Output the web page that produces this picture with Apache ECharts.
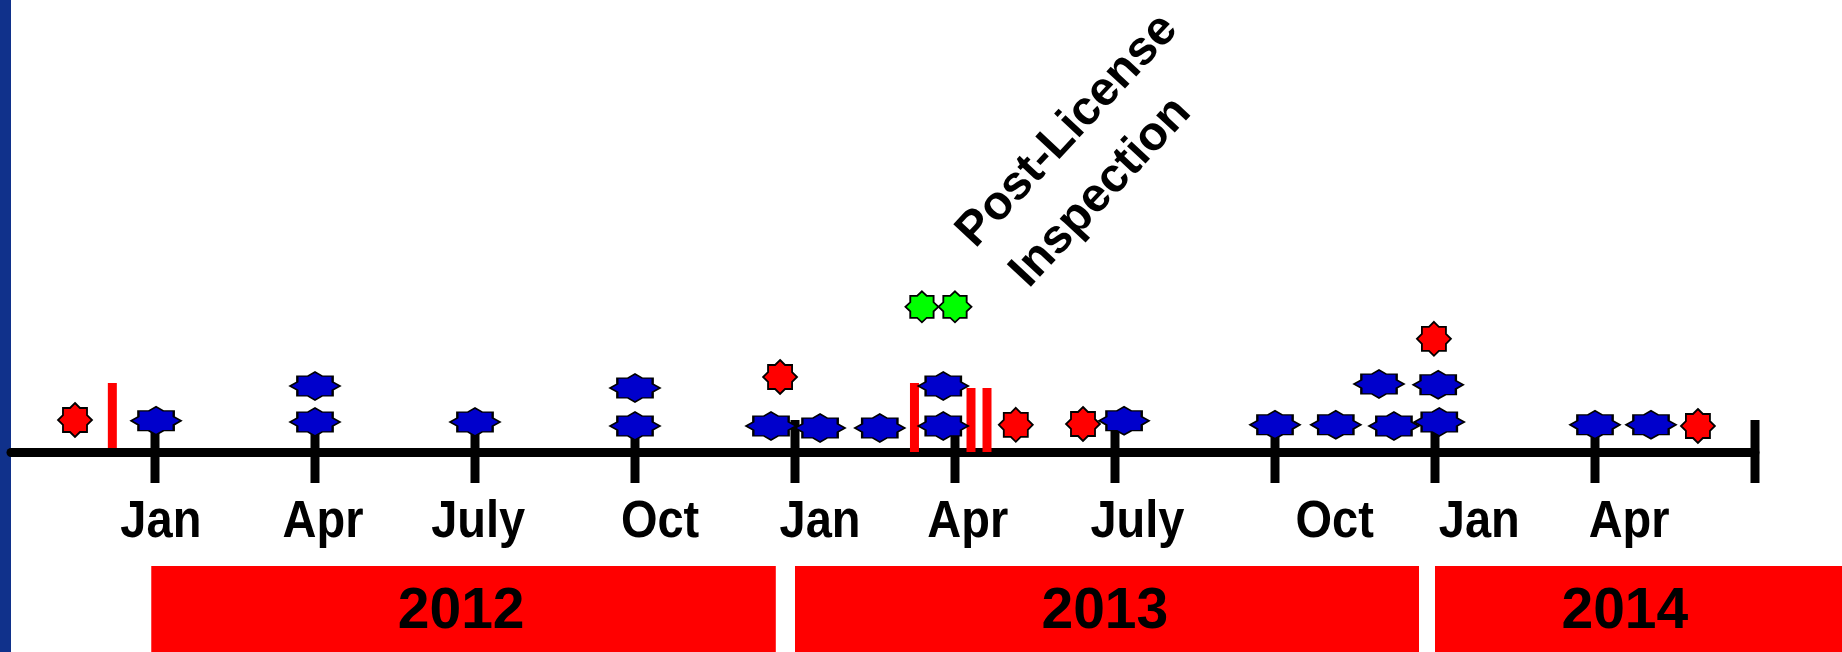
<!DOCTYPE html>
<html>
<head>
<meta charset="utf-8">
<script src="https://cdn.jsdelivr.net/npm/echarts@6/dist/echarts.min.js"></script>
<style>
  html, body { margin: 0; padding: 0; background: #fff; }
  #chart { width: 1842px; height: 652px; }
</style>
</head>
<body>
<div id="chart"></div>
<script>
// months counted from Jan 2012 (0), heights above the timeline in row units
const tickMonths = [0, 3, 6, 9, 12, 15, 18, 21, 24, 27, 30]
const monthLabels = ['Jan', 'Apr', 'July', 'Oct', 'Jan', 'Apr', 'July', 'Oct', 'Jan', 'Apr']
const monthLabelAt = [0.11, 3.15, 6.06, 9.47, 12.47, 15.24, 18.42, 22.12, 24.83, 27.64]

const blueEvents = [
  [0.02, 0.78], [3.0, 0.75], [3.0, 1.65], [6.0, 0.75], [9.0, 0.65], [9.0, 1.6],
  [11.55, 0.65], [12.47, 0.6], [13.59, 0.6], [14.78, 0.65], [14.78, 1.65],
  [18.17, 0.78], [21.0, 0.68], [22.14, 0.68], [23.23, 0.65], [24.08, 0.75],
  [22.95, 1.7], [24.06, 1.68], [27.0, 0.68], [28.05, 0.68]
]
const redEvents = [
  [-1.5, 0.8], [11.72, 1.875], [16.14, 0.68], [17.4, 0.7], [23.98, 2.83], [28.93, 0.65]
]
const greenEvents = [[14.38, 3.63], [15.0, 3.63]]

// red vertical markers: [month, bottom, top]
const redBars = [[-0.8, 0.1, 1.725], [14.24, 0, 1.725], [15.3, 0, 1.6], [15.6, 0, 1.6]]

const years = ['2012', '2013', '2014']
const yearStart = [-0.07, 12.0, 24.0]
const yearEnd = [11.64, 23.7, 31.7]
const yearLabelAt = [5.74, 17.81, 27.56]

// annotation, one entry per line
const noteLines = ['Post-License', 'Inspection']
const noteAt = [[15.2, 5.3], [16.2, 4.3]]

// 8 point star, PowerPoint style
const starPath = (() => {
  const pts = []
  for (let i = 0; i < 16; i++) {
    const a = i * Math.PI / 8 - Math.PI / 2
    const r = i % 2 ? 0.765 : 1
    pts.push((50 + 50 * r * Math.cos(a)).toFixed(2) + ',' + (50 + 50 * r * Math.sin(a)).toFixed(2))
  }
  return 'path://M' + pts.join('L') + 'Z'
})()

const font = '"Liberation Sans", Arial, sans-serif'

const chart = echarts.init(document.getElementById('chart'), null, { renderer: 'canvas' })

const starSeries = (data, color, size) => ({
  type: 'scatter',
  data,
  symbol: starPath,
  symbolSize: size,
  itemStyle: { color, borderColor: '#000', borderWidth: 1.8, opacity: 1 },
  z: 5
})

chart.setOption({
  animation: false,
  backgroundColor: '#fff',
  grid: { left: 11, right: 87, top: 12, bottom: 0 },
  xAxis: {
    type: 'value', min: -2.7, max: 30,
    axisLine: { show: true, onZero: true, lineStyle: { color: '#000', width: 9 } },
    axisTick: { show: false }, axisLabel: { show: false }, splitLine: { show: false }
  },
  yAxis: { type: 'value', min: -5, max: 11, show: false, splitLine: { show: false } },
  graphic: [{ type: 'rect', left: 0, top: 0, shape: { width: 11, height: 652 }, style: { fill: '#10318b' } }],
  series: [
    {
      // year bands under the timeline
      type: 'custom',
      clip: false,
      data: years.map((y, i) => [yearStart[i], yearEnd[i], yearLabelAt[i], y]),
      renderItem: (params, api) => {
        const a = api.coord([api.value(0), -2.85])
        const b = api.coord([api.value(1), -5.0])
        const t = api.coord([api.value(2), -4.0])
        return {
          type: 'group',
          children: [
            { type: 'rect', shape: { x: a[0], y: a[1], width: b[0] - a[0], height: b[1] - a[1] }, style: { fill: '#ff0000' } },
            { type: 'text', x: t[0], y: t[1], style: { text: api.value(3), fill: '#000', font: 'bold 57px ' + font, align: 'center', verticalAlign: 'middle' } }
          ]
        }
      },
      encode: { x: [0, 1], y: [] },
      z: 1
    },
    {
      // quarter ticks crossing the timeline
      type: 'custom',
      clip: false,
      data: tickMonths.map(m => [m]),
      renderItem: (params, api) => {
        const top = api.coord([api.value(0), 0.8])
        const bot = api.coord([api.value(0), -0.775])
        return { type: 'rect', shape: { x: top[0] - 4.5, y: top[1], width: 9, height: bot[1] - top[1] }, style: { fill: '#000' } }
      },
      encode: { x: 0, y: [] },
      z: 2
    },
    {
      type: 'custom',
      clip: false,
      data: redBars,
      renderItem: (params, api) => {
        const top = api.coord([api.value(0), api.value(2)])
        const bot = api.coord([api.value(0), api.value(1)])
        return { type: 'rect', shape: { x: top[0] - 4.5, y: top[1], width: 9, height: bot[1] - top[1] }, style: { fill: '#ff0000' } }
      },
      encode: { x: 0, y: [1, 2] },
      z: 3
    },
    {
      // month names, slightly tall like the original slide
      type: 'custom',
      clip: false,
      data: monthLabelAt.map((m, i) => [m, monthLabels[i]]),
      dimensions: ['x', { name: 'label', type: 'ordinal' }],
      renderItem: (params, api) => {
        const p = api.coord([monthLabelAt[params.dataIndex], -1.775])
        return {
          type: 'text', x: p[0], y: p[1], scaleY: 1.1,
          style: { text: monthLabels[params.dataIndex], fill: '#000', font: 'bold 47px ' + font, align: 'center', verticalAlign: 'middle' }
        }
      },
      encode: { x: 0, y: [] },
      z: 4
    },
    starSeries(blueEvents, '#0000cc', [50, 28]),
    starSeries(redEvents, '#ff0000', [34, 34]),
    starSeries(greenEvents, '#00ff00', [33, 31]),
    {
      type: 'scatter',
      data: noteAt.map((p, i) => ({ value: p, name: noteLines[i] })),
      symbolSize: 0,
      itemStyle: { opacity: 1 },
      label: {
        show: true, position: 'inside', formatter: p => p.name, rotate: 47,
        align: 'left', verticalAlign: 'middle',
        color: '#000', fontSize: 48, fontWeight: 'bold', fontFamily: font
      },
      z: 6
    }
  ]
})
</script>
</body>
</html>
